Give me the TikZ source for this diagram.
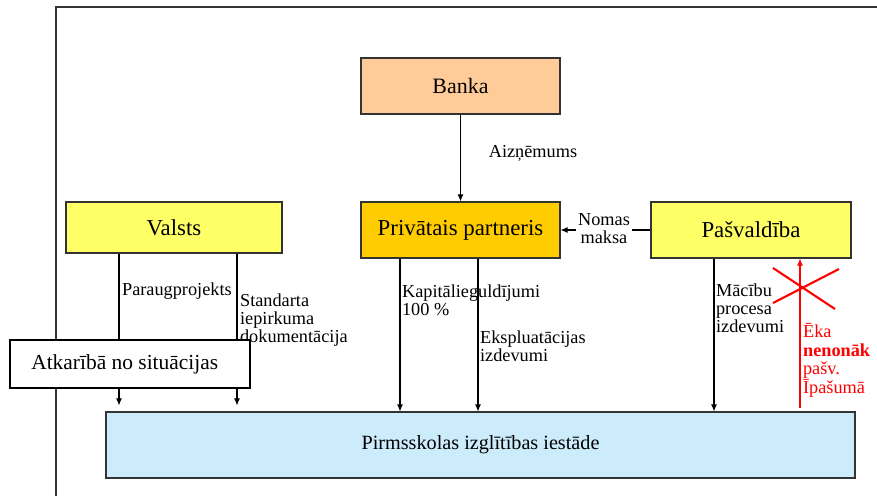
\documentclass[tikz,border=0pt]{standalone}
\usepackage{fontspec}
\setmainfont{Liberation Serif}
\usepackage{xcolor}
\definecolor{peach}{HTML}{FFCC99}
\definecolor{lemon}{HTML}{FFFF66}
\definecolor{amber}{HTML}{FFCC00}
\definecolor{skyblue}{HTML}{CCEBFB}
\definecolor{edge}{gray}{0.2}
\usetikzlibrary{arrows.meta}

\begin{document}
\begin{tikzpicture}[x=0.02cm, y=-0.02cm,
  box/.style={draw=edge, line width=0.7pt, inner sep=0pt},
  arr/.style={-{Latex[length=4pt,width=3.5pt]}, line width=0.6pt},
  lbl/.style={font=\fontsize{10.4}{10.3}\selectfont, align=left, inner sep=1pt}]
\useasboundingbox (0,0) rectangle (877,496);
\draw[edge, line width=0.8pt] (877,7) -- (56,7) -- (56,496);

\node[box, fill=peach, minimum width=3.98cm, minimum height=1.12cm, font=\fontsize{12.5}{15}\selectfont] (banka) at (460.5,86) {Banka};
\node[box, fill=lemon, minimum width=4.32cm, minimum height=1.02cm, font=\fontsize{13}{15}\selectfont] (valsts) at (174,227.5) {Valsts};
\node[box, fill=amber, minimum width=3.98cm, minimum height=1.12cm, font=\fontsize{13}{15}\selectfont] (partneris) at (460.5,230) {Privātais partneris};
\node[box, fill=lemon, minimum width=4cm, minimum height=1.12cm, font=\fontsize{13}{15}\selectfont] (pasv) at (751,230) {Pašvaldība};
\node[box, fill=skyblue, minimum width=14.98cm, minimum height=1.32cm, font=\fontsize{11.5}{14}\selectfont] (skola) at (480.5,445) {Pirmsskolas izglītības iestāde};

\draw[arr] (banka) -- (partneris);
\node[lbl] (aizn) at (533,153) {Aizņēmums};
\draw[arr] (pasv) -- (partneris);
\node[lbl, align=center, fill=white] (noma) at (604,229) {Nomas\\maksa};

% arrows down to the school
\foreach \src/\x/\gap in {valsts/119/0.12cm, valsts/237/0.12cm, partneris/400/0pt, partneris/478/0pt, pasv/714/0pt}{
\draw[arr, shorten >=\gap] (\src.south -| \x,0) -- (skola.north -| \x,0);
}

\node[lbl, anchor=west] (paraugs) at (120,291) {Paraugprojekts};
\node[lbl, anchor=north west] (standarts) at (238,292) {Standarta\\iepirkuma\\dokumentācija};
\node[lbl, anchor=north west] (kapital) at (400,283) {Kapitālieguldījumi\\100 \%};
\node[lbl, anchor=north west] (ekspl) at (478,329) {Ekspluatācijas\\izdevumi};
\node[lbl, anchor=north west] (macibas) at (714,282) {Mācību\\procesa\\izdevumi};

\node[draw=black, line width=1.2pt, fill=white, minimum width=4.8cm, minimum height=0.96cm, font=\fontsize{12.2}{15}\selectfont] (situacija) at (130,364) {Atkarībā no situācijas\hspace*{6pt}};

% building not owned by the municipality
\coordinate (ekaBase) at (800,408);
\draw[red, arr] (ekaBase) -- (pasv.south -| ekaBase);
\draw[red, line width=1.2pt] (773,268) -- (835,309) (839,269) -- (773,303);
\node[lbl, anchor=north west, text=red, font=\fontsize{10.4}{10.7}\selectfont] (eka) at (801,321) {Ēka\\\textbf{nenonāk}\\pašv.\\Īpašumā};
\end{tikzpicture}
\end{document}
